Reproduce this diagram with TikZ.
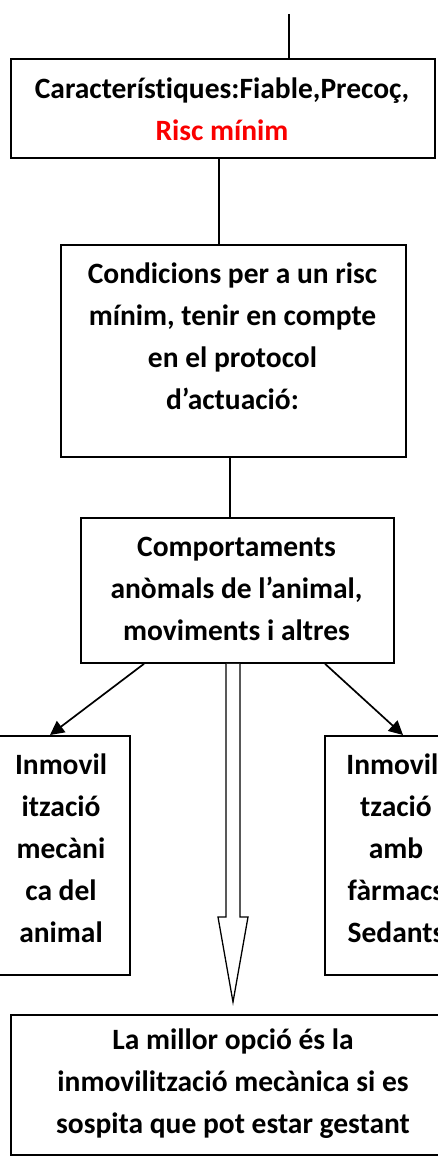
\documentclass[tikz,border=0pt]{standalone}
\usepackage{fontspec}
\setmainfont[Ligatures=NoCommon]{Carlito}
\usetikzlibrary{arrows.meta}
\definecolor{riscred}{RGB}{250,0,0}
\begin{document}
\begin{tikzpicture}[x=1pt,y=-1pt,
  box/.style={draw=black,line width=1.8pt,inner sep=0pt,anchor=north west},
  txt/.style={align=center,inner sep=0pt,font=\bfseries\fontsize{29.5}{42}\selectfont},
  link/.style={line width=1.4pt},
  arr/.style={line width=1.7pt,-{Triangle[length=14pt,width=14pt]}},
  hollow/.style={draw=black,line width=1.3pt,fill=white}]
\useasboundingbox (0,0) rectangle (438,1156);
\clip (0,0) rectangle (438,1156);
% boxes
\node[box,minimum width=424pt,minimum height=99pt] (b1) at (10,58) {};
\node[box,minimum width=345pt,minimum height=212pt] (b2) at (60,244) {};
\node[box,minimum width=313pt,minimum height=145pt] (b3) at (80,517) {};
\node[box,minimum width=137pt,minimum height=239pt] (bl) at (-8,735) {};
\node[box,minimum width=144pt,minimum height=239pt] (br) at (324,735) {};
\node[box,minimum width=447pt,minimum height=140pt] (bb) at (10,1014) {};
% texts
\node[txt] (t1) at (222,109) {Característiques:Fiable,Precoç,\\\textcolor{riscred}{Risc mínim}};
\node[txt] (t2) at (232.5,336) {Condicions per a un risc\\mínim, tenir en compte\\en el protocol\\d’actuació:};
\node[txt] (t3) at (236.5,588.5) {Comportaments\\anòmals de l’animal,\\moviments i altres};
\node[txt] (tl) at (61,848.5) {Inmovil\\ització\\mecàni\\ca del\\animal};
\node[txt] (tr) at (396,848.5) {Inmovili\\tzació\\amb\\fàrmacs\\Sedants};
\node[txt] (tb) at (233,1084) {La millor opció és la\\inmovilització mecànica si es\\sospita que pot estar gestant};
% connectors
\coordinate (top) at (289,14);
\draw[link] (top) -- (top |- b1.north);
\draw[link] (b1.south -| 219,0) -- (b2.north -| 219,0);
\draw[link] (b2.south -| 230,0) -- (b3.north -| 230,0);
\draw[arr] (b3.south -| 144,0) -- (bl.north -| 50,0);
\draw[arr] (b3.south -| 325,0) -- (br.north -| 403,0);
% hollow block arrow
\coordinate (ha) at (b3.south -| 226,0);
\coordinate (hb) at (b3.south -| 240,0);
\draw[hollow] (ha) -- (226,917) -- (218,917) -- (233,1002) -- (248,917) -- (240,917) -- (hb);
\end{tikzpicture}
\end{document}
